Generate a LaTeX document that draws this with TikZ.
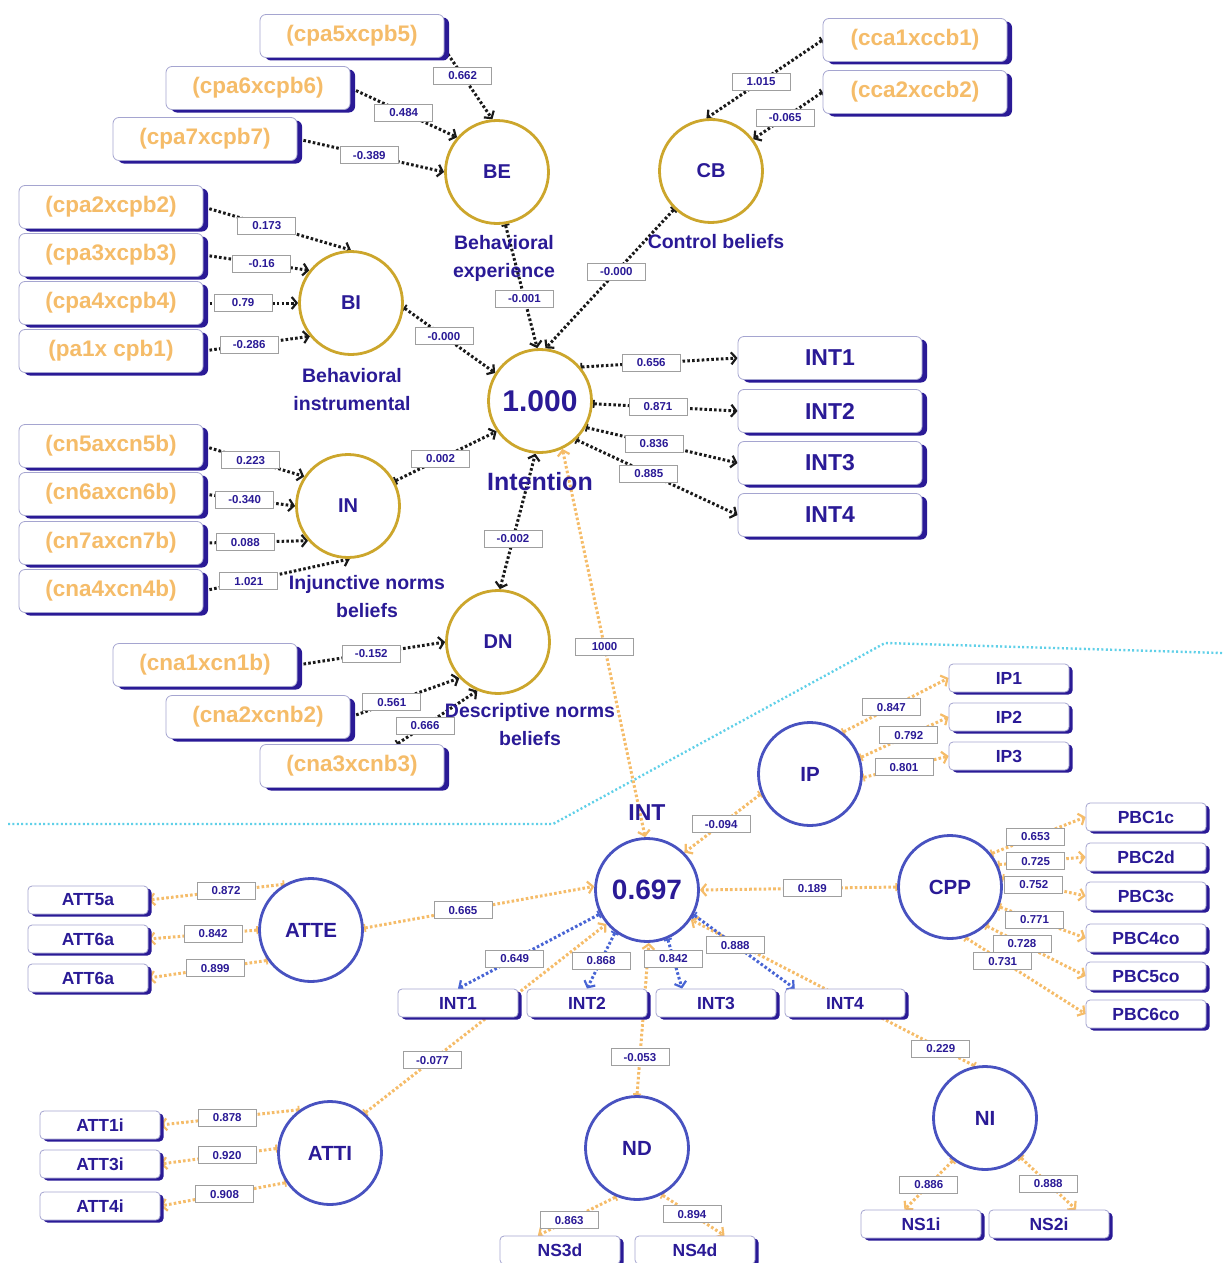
\documentclass[tikz,border=0pt]{standalone}
\usepackage{fontspec}
\setmainfont{Liberation Sans}
\usetikzlibrary{arrows.meta,shadows,backgrounds}

\definecolor{navy}{RGB}{42,26,150}
\definecolor{ochre}{RGB}{245,188,105}
\definecolor{gold}{RGB}{204,166,44}
\definecolor{ringblue}{RGB}{72,82,192}
\definecolor{dotblue}{RGB}{72,100,212}
\definecolor{cyanline}{RGB}{95,208,232}
\definecolor{boxline}{RGB}{165,165,208}

\tikzset{
  boxbase/.style={rectangle, rounded corners=6pt, draw=boxline, line width=0.8pt, fill=white,
    minimum width=184pt, minimum height=43pt, inner sep=0pt},
  obox/.style={boxbase, text=ochre, font=\fontsize{22.5}{22.5}\selectfont\bfseries,
    general shadow={fill=navy, shadow xshift=5pt, shadow yshift=-3pt}},
  ibox/.style={boxbase, text=navy, font=\fontsize{23}{23}\selectfont\bfseries,
    general shadow={fill=navy, shadow xshift=5pt, shadow yshift=-3pt}},
  sbox/.style={boxbase, rounded corners=4pt, minimum width=120pt, minimum height=28pt,
    text=navy, font=\fontsize{17.5}{17.5}\selectfont\bfseries,
    general shadow={fill=navy, shadow xshift=3.5pt, shadow yshift=-2.5pt}},
  goldlv/.style={circle, draw=gold, line width=2.8pt, fill=white, minimum size=103pt,
    inner sep=0pt, text=navy, font=\fontsize{20}{20}\selectfont\bfseries},
  bluelv/.style={goldlv, draw=ringblue, font=\fontsize{20.5}{20.5}\selectfont\bfseries},
  tlab/.style={text=navy, align=center, inner sep=0pt, font=\fontsize{19.5}{28}\selectfont\bfseries},
  elab/.style={rectangle, solid, draw=gray!75, line width=0.8pt, fill=white, text=navy,
    font=\fontsize{11.5}{11.5}\selectfont\bfseries, minimum width=58pt, minimum height=17pt, inner sep=1pt},
  blkpath/.style={draw=black!90, line width=3pt, dash pattern=on 2.6pt off 2.2pt,
    arrows={Bar[width=8pt,line width=1.8pt]-Straight Barb[length=5pt,width=12pt,line width=2.2pt]}},
  orgpath/.style={blkpath, draw=ochre},
  blupath/.style={blkpath, draw=dotblue},
  twoway/.style={arrows={Straight Barb[length=5pt,width=12pt,line width=2.2pt]-Straight Barb[length=5pt,width=12pt,line width=2.2pt]}},
  cyanpath/.style={draw=cyanline, line width=2.4pt, dash pattern=on 2pt off 2.4pt}
}

\begin{document}
\begin{tikzpicture}[x=1pt, y=-1pt]
\useasboundingbox (0,0) rectangle (1224,1263);

%% belief items
\node[obox] (cpa5) at (352,36)  {(cpa5xcpb5)};
\node[obox] (cpa6) at (258,88)  {(cpa6xcpb6)};
\node[obox] (cpa7) at (205,139) {(cpa7xcpb7)};
\node[obox] (cpa2) at (111,207) {(cpa2xcpb2)};
\node[obox] (cpa3) at (111,255) {(cpa3xcpb3)};
\node[obox] (cpa4) at (111,303) {(cpa4xcpb4)};
\node[obox] (pa1)  at (111,351) {(pa1x cpb1)};
\node[obox] (cca1) at (915,40)  {(cca1xccb1)};
\node[obox] (cca2) at (915,92)  {(cca2xccb2)};
\node[obox] (cn5)  at (111,446) {(cn5axcn5b)};
\node[obox] (cn6)  at (111,494) {(cn6axcn6b)};
\node[obox] (cn7)  at (111,543) {(cn7axcn7b)};
\node[obox] (cna4) at (111,591) {(cna4xcn4b)};
\node[obox] (cna1) at (205,665) {(cna1xcn1b)};
\node[obox] (cna2) at (258,717) {(cna2xcnb2)};
\node[obox] (cna3) at (352,766) {(cna3xcnb3)};

%% intention items (top)
\node[ibox] (int1) at (830,358) {INT1};
\node[ibox] (int2) at (830,411) {INT2};
\node[ibox] (int3) at (830,463) {INT3};
\node[ibox] (int4) at (830,515) {INT4};

%% belief constructs
\node[goldlv] (be)   at (497,172) {BE};
\node[goldlv] (cb)   at (711,171) {CB};
\node[goldlv] (bi)   at (351,303) {BI};
\node[goldlv, font=\fontsize{30}{30}\selectfont\bfseries] (intention) at (540,401) {1.000};
\node[goldlv] (inb)  at (348,506) {IN};
\node[goldlv] (dn)   at (498,642) {DN};

%% construct labels
\node[tlab] (belab) at (504,258) {Behavioral\\experience};
\node[tlab] (cblab) at (716,242) {Control beliefs};
\node[tlab] (bilab) at (352,390) {Behavioral\\instrumental};
\node[tlab, font=\fontsize{25}{25}\selectfont\bfseries] (intlab) at (540,482) {Intention};
\node[tlab] (inlab) at (367,597) {Injunctive norms\\beliefs};
\node[tlab] (dnlab) at (530,725) {Descriptive norms\\beliefs};

%% model constructs (bottom)
\node[bluelv, font=\fontsize{28}{28}\selectfont\bfseries] (int) at (647,890) {0.697};
\node[tlab, font=\fontsize{23}{23}\selectfont\bfseries] (intname) at (647,813) {INT};
\node[bluelv] (ip)   at (810,774)  {IP};
\node[bluelv] (cpp)  at (950,887)  {CPP};
\node[bluelv] (atte) at (311,930)  {ATTE};
\node[bluelv] (atti) at (330,1153) {ATTI};
\node[bluelv] (nd)   at (637,1148) {ND};
\node[bluelv] (ni)   at (985,1118) {NI};

%% model items (bottom)
\node[sbox] (ip1)   at (1009,678) {IP1};
\node[sbox] (ip2)   at (1009,717) {IP2};
\node[sbox] (ip3)   at (1009,756) {IP3};
\node[sbox] (pbc1)  at (1146,817) {PBC1c};
\node[sbox] (pbc2)  at (1146,857) {PBC2d};
\node[sbox] (pbc3)  at (1146,896) {PBC3c};
\node[sbox] (pbc4)  at (1146,938) {PBC4co};
\node[sbox] (pbc5)  at (1146,976) {PBC5co};
\node[sbox] (pbc6)  at (1146,1014) {PBC6co};
\node[sbox] (att5)  at (88,900)   {ATT5a};
\node[sbox] (att6)  at (88,939)   {ATT6a};
\node[sbox] (att6b) at (88,978)   {ATT6a};
\node[sbox] (att1)  at (100,1125) {ATT1i};
\node[sbox] (att3)  at (100,1164) {ATT3i};
\node[sbox] (att4)  at (100,1206) {ATT4i};
\node[sbox] (int1b) at (458,1003) {INT1};
\node[sbox] (int2b) at (587,1003) {INT2};
\node[sbox] (int3b) at (716,1003) {INT3};
\node[sbox] (int4b) at (845,1003) {INT4};
\node[sbox] (ns3)   at (560,1250) {NS3d};
\node[sbox] (ns4)   at (695,1250) {NS4d};
\node[sbox] (ns1)   at (921,1224) {NS1i};
\node[sbox] (ns2)   at (1049,1224) {NS2i};

\begin{scope}[on background layer]
%% separator
\draw[cyanpath] (8,824) -- (553,824) -- (885,643) -- (1222,653);

%% top paths
\draw[blkpath] (cpa5.-8)  -- node[elab,pos=0.38] {0.662}  (be.95);    %% cpa5-be
\draw[blkpath] (cpa6.east) -- node[elab,pos=0.5]  {0.484}  (be.139);   %% cpa6-be
\draw[blkpath] (cpa7.east) -- node[elab,pos=0.49] {-0.389} (be.180);   %% cpa7-be
\draw[blkpath] (cpa2.east) -- node[elab,pos=0.43] {0.173}  (bi.90);    %% cpa2-bi
\draw[blkpath] (cpa3.east) -- node[elab,pos=0.55] {-0.16}  (bi.142);   %% cpa3-bi
\draw[blkpath] (cpa4.east) -- node[elab,pos=0.42] {0.79}   (bi.180);   %% cpa4-bi
\draw[blkpath] (pa1.east)  -- node[elab,pos=0.43] {-0.286} (bi.219);   %% pa1-bi
\draw[blkpath] (bi.-5)     -- node[elab,pos=0.44] {-0.000} (intention.148);  %% bi-int
\draw[blkpath] (be.-81)    -- node[elab,pos=0.6]  {-0.001} (intention.93);   %% be-int
\draw[blkpath] (cb.226)    -- node[elab,pos=0.45] {-0.000} (intention.84);   %% cb-int
\draw[blkpath] (cca1.west) -- node[elab,pos=0.53] {1.015}  (cb.95);    %% cca1-cb
\draw[blkpath] (cca2.west) -- node[elab,pos=0.54] {-0.065} (cb.37);    %% cca2-cb
\draw[blkpath] (intention.40)  -- node[elab,pos=0.45] {0.656} (int1.west);
\draw[blkpath] (intention.-3)  -- node[elab,pos=0.45] {0.871} (int2.west);
\draw[blkpath] (intention.-30) -- node[elab,pos=0.45] {0.836} (int3.west);
\draw[blkpath] (intention.-47) -- node[elab,pos=0.45] {0.885} (int4.west);
\draw[blkpath] (cn5.east)  -- node[elab,pos=0.47] {0.223}  (inb.146);  %% cn5-in
\draw[blkpath] (cn6.east)  -- node[elab,pos=0.45] {-0.340} (inb.180);  %% cn6-in
\draw[blkpath] (cn7.east)  -- node[elab,pos=0.4]  {0.088}  (inb.221);  %% cn7-in
\draw[blkpath] (cna4.east) -- node[elab,pos=0.31] {1.021}  (inb.272);  %% cna4-in
\draw[blkpath] (inb.28)    -- node[elab,pos=0.45] {0.002}  (intention.215); %% in-int
\draw[blkpath, twoway] (dn.88) -- node[elab,pos=0.37] {-0.002} (intention.265); %% dn-int
\draw[blkpath] (cna1.east) -- node[elab,pos=0.5]  {-0.152} (dn.180);   %% cna1-dn
\draw[blkpath] (cna2.east) -- node[elab,pos=0.38] {0.561}  (dn.223);   %% cna2-dn
\draw[blkpath] (cna3.26)   -- node[elab,pos=0.35] {0.666}  (dn.247);   %% cna3-dn

%% link between the two models
\draw[orgpath, twoway] (int.92) -- node[elab,pos=0.49] {1000} (intention.-65);

%% bottom paths
\draw[orgpath] (ip.202)   -- node[elab,pos=0.52] {-0.094} (int.45);
\draw[orgpath] (ip.52)    -- node[elab,pos=0.46] {0.847}  (ip1.west);
\draw[orgpath] (ip.18)    -- node[elab,pos=0.55] {0.792}  (ip2.west);
\draw[orgpath] (ip.-4)    -- node[elab,pos=0.48] {0.801}  (ip3.west);
\draw[orgpath] (cpp.180)  -- node[elab,pos=0.43] {0.189}  (int.0);
\draw[orgpath] (cpp.39)   -- node[elab,pos=0.47] {0.653}  (pbc1.west);
\draw[orgpath] (cpp.25)   -- node[elab,pos=0.43] {0.725}  (pbc2.west);
\draw[orgpath] (cpp.10)   -- node[elab,pos=0.38] {0.752}  (pbc3.west);
\draw[orgpath] (cpp.-22)  -- node[elab,pos=0.41] {0.771}  (pbc4.west);
\draw[orgpath] (cpp.-47)  -- node[elab,pos=0.36] {0.728}  (pbc5.west);
\draw[orgpath] (cpp.-73)  -- node[elab,pos=0.31] {0.731}  (pbc6.west);
\draw[orgpath] (atte.120) -- node[elab,pos=0.43] {0.872}  (att5.east);
\draw[orgpath] (atte.180) -- node[elab,pos=0.41] {0.842}  (att6.east);
\draw[orgpath] (atte.215) -- node[elab,pos=0.44] {0.899}  (att6b.east);
\draw[orgpath] (atte.2)   -- node[elab,pos=0.43] {0.665}  (int.176);
\draw[orgpath] (atti.49)  -- node[elab,pos=0.28] {-0.077} (int.220);
\draw[orgpath] (nd.90)    -- node[elab,pos=0.25] {-0.053} (int.272);
\draw[orgpath] (ni.101)   -- node[elab,pos=0.12] {0.229}  (int.326);
\draw[orgpath] (nd.247)   -- node[elab,pos=0.6]  {0.863}  (ns3.147);
\draw[orgpath] (nd.298)   -- node[elab,pos=0.48] {0.894}  (ns4.26);
\draw[orgpath] (ni.233)   -- node[elab,pos=0.5]  {0.886}  (ns1.139);
\draw[orgpath] (ni.312)   -- node[elab,pos=0.5]  {0.888}  (ns2.28);
\draw[orgpath] (atti.125) -- node[elab,pos=0.52] {0.878}  (att1.east);
\draw[orgpath] (atti.175) -- node[elab,pos=0.43] {0.920}  (att3.east);
\draw[orgpath] (atti.214) -- node[elab,pos=0.49] {0.908}  (att4.east);
\draw[blupath] (int.207)  -- node[elab,pos=0.6]  {0.649}  (int1b.north);
\draw[blupath] (int.233)  -- node[elab,pos=0.5]  {0.868}  (int2b.north);
\draw[blupath] (int.293)  -- node[elab,pos=0.4]  {0.842}  (int3b.157);
\draw[blupath] (int.332)  -- node[elab,pos=0.41] {0.888}  (int4b.164);
\end{scope}

\end{tikzpicture}
\end{document}
